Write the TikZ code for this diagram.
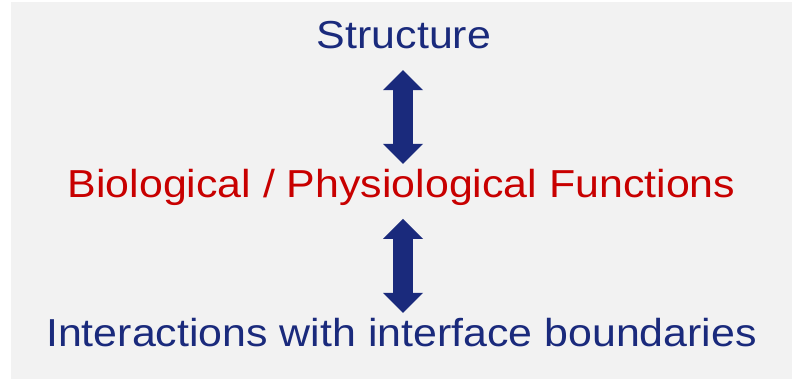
\documentclass[tikz,border=0pt]{standalone}
\usepackage{fontspec}
\setmainfont{Liberation Sans}
\definecolor{navyc}{HTML}{1A2A7C}
\definecolor{redc}{HTML}{C80000}
\definecolor{panelc}{HTML}{F2F2F2}
\usetikzlibrary{arrows.meta,positioning}
\begin{document}
\begin{tikzpicture}[x=1pt,y=1pt,every node/.style={font=\fontsize{39}{39}\selectfont}]
\tikzstyle{phrase}=[inner sep=0pt,text height=28pt,text depth=0pt,anchor=base,xscale=1.1,transform shape]
\tikzstyle{updown}=[{Triangle[width=40pt,length=20pt,line width=0pt]}-{Triangle[width=40pt,length=20pt,line width=0pt]},line width=20pt,navyc,shorten <=21pt,shorten >=5.7pt]
\useasboundingbox (0,0) rectangle (792,379);
\fill[panelc] (11,0) rectangle (792,377);
\coordinate (axis) at (403,0);
\node[phrase,text=navyc] (struct) at (404,330) {Structure};
\node[phrase,text=redc] (func) at (401.5,181.3) {Biological / Physiological Functions};
\node[phrase,text=navyc] (inter) at (401.5,32.3) {Interactions with interface boundaries};
\draw[updown] (struct.south -| axis) -- (func.north -| axis);
\draw[updown] (func.south -| axis) -- (inter.north -| axis);
\end{tikzpicture}
\end{document}
